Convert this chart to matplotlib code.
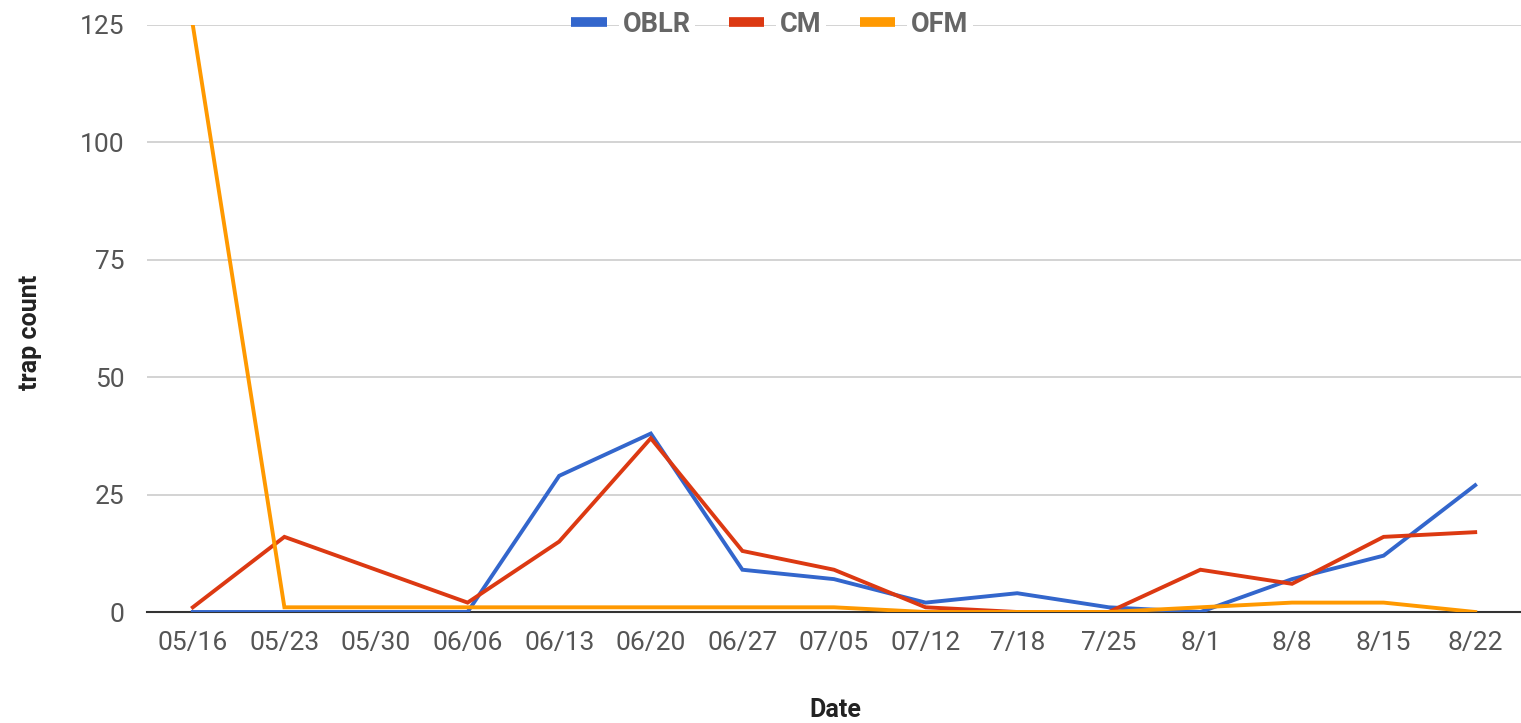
import matplotlib.pyplot as plt

plt.rcParams['font.family'] = ['Roboto', 'DejaVu Sans']

# trap counts per weekly check
dates = ['05/16', '05/23', '05/30', '06/06', '06/13', '06/20', '06/27', '07/05',
         '07/12', '7/18', '7/25', '8/1', '8/8', '8/15', '8/22']
oblr = [0, 0, 0, 0, 29, 38, 9, 7, 2, 4, 1, 0, 7, 12, 27]
cm = [1, 16, 9, 2, 15, 37, 13, 9, 1, 0, 0, 9, 6, 16, 17]
ofm = [125, 1, 1, 1, 1, 1, 1, 1, 0, 0, 0, 1, 2, 2, 0]

series = [('OBLR', oblr, '#3366cc'), ('CM', cm, '#dc3912'), ('OFM', ofm, '#ff9900')]
yticks = [0, 25, 50, 75, 100, 125]

W, H = 1521, 723
fig = plt.figure(figsize=(W / 100, H / 100), dpi=100)
ax = fig.add_axes([147 / W, 1 - 612 / H, (1521 - 147) / W, (612 - 25) / H])

x = list(range(len(dates)))
for name, vals, color in series:
    ax.plot(x, vals, color=color, lw=2.8, label=name, solid_joinstyle='miter', zorder=3)

ax.set_xlim(-0.5, len(dates) - 0.5)
ax.set_ylim(0, 125)
ax.set_yticks(yticks)
ax.set_xticks(x)
ax.set_xticklabels(dates)
ax.grid(axis='y', color='#cccccc', lw=1.2)
ax.set_axisbelow(True)
for s in ['top', 'right', 'left']:
    ax.spines[s].set_visible(False)
ax.spines['bottom'].set_color('#333333')
ax.spines['bottom'].set_linewidth(1.5)
ax.spines['bottom'].set_zorder(2)
ax.tick_params(axis='both', length=0, labelsize=19, labelcolor='#555555')
ax.tick_params(axis='x', pad=14)
ax.tick_params(axis='y', pad=16)

fig.text(835 / W, 1 - 710 / H, 'Date', ha='center', va='center',
         fontsize=18, fontweight='bold', color='#222222')
fig.text(30 / W, 1 - 332 / H, 'trap count', ha='center', va='center', rotation=90,
         fontsize=18, fontweight='bold', color='#222222')

leg = fig.legend(loc='center', bbox_to_anchor=(770 / W, 1 - 24 / H), ncol=3,
                 frameon=False, fontsize=19.5, handlelength=1.3, handletextpad=0.6,
                 columnspacing=1.4)
for line in leg.get_lines():
    line.set_linewidth(7)
    line.set_solid_capstyle('butt')
for t in leg.get_texts():
    t.set_color('#666666')
    t.set_fontweight('bold')
    t.set_bbox(dict(facecolor='white', edgecolor='none', pad=3))

fig.savefig('out.png', dpi=100)
